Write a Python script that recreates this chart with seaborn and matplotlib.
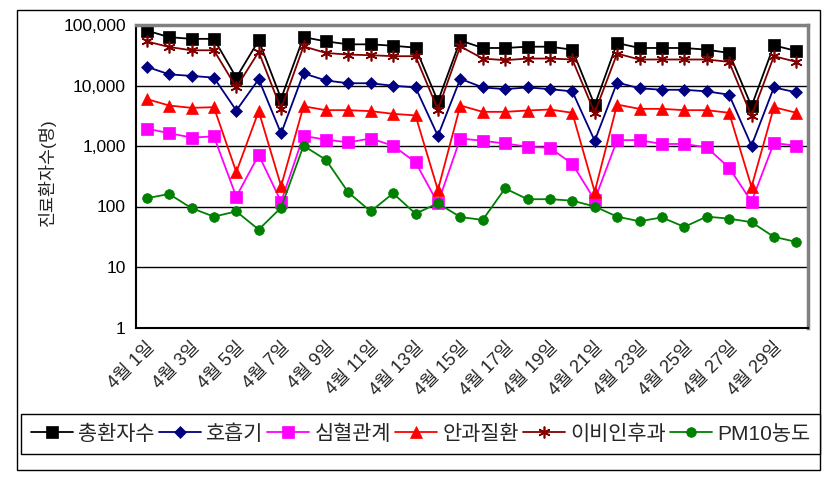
import matplotlib
matplotlib.use("Agg")
import matplotlib.pyplot as plt
from matplotlib.patches import Rectangle
from matplotlib.ticker import FixedLocator, NullFormatter, FuncFormatter
import seaborn as sns
import pandas as pd
import numpy as np

sns.set_style("white")
plt.rcParams['font.family'] = ['Liberation Sans', 'Noto Sans CJK KR', 'DejaVu Sans']

days = [f"4월 {d}일" for d in range(1, 31)]

total = [81000, 63000, 59000, 59000, 13500, 55600, 6070, 63000, 53600, 47900,
         47900, 45400, 42200, 5480, 55600, 41700, 41700, 43800, 43800, 39100,
         4720, 50300, 41700, 41700, 41700, 39100, 34500, 4540, 46100, 37200]
resp = [20400, 15300, 14400, 13500, 3860, 12700, 1610, 15900, 12100, 10900,
        10900, 9900, 9300, 1470, 12900, 9300, 8700, 9300, 8700, 8000,
        1220, 11200, 9000, 8500, 8500, 8000, 7050, 1010, 9300, 7700]
cardio = [1940, 1630, 1380, 1440, 145, 712, 120, 1470, 1270, 1150,
          1330, 1010, 540, 113, 1330, 1220, 1100, 975, 930, 508,
          128, 1250, 1250, 1080, 1080, 950, 438, 120, 1120, 1010]
eye = [5980, 4670, 4270, 4380, 371, 3770, 217, 4540, 3910, 3910,
       3770, 3400, 3200, 187, 4670, 3670, 3670, 3860, 4010, 3540,
       175, 4840, 4110, 4110, 3910, 3910, 3540, 211, 4380, 3540]
ent = [53600, 43300, 38200, 38200, 9300, 35900, 4110, 44400, 34500, 32400,
       31700, 30500, 30500, 4010, 44400, 27900, 26200, 27900, 27900, 26900,
       3540, 33700, 26900, 26900, 26900, 26900, 24600, 3120, 30500, 24600]
pm10 = [137, 161, 94, 68, 83, 41.5, 96, 1010, 592, 171,
        83, 165, 76, 113, 67, 60, 199, 132, 132, 125,
        100, 68, 57, 66, 46, 68, 63, 55, 31.5, 26]

series_names = ["총환자수", "호흡기", "심혈관계", "안과질환", "이비인후과", "PM10농도"]
series_values = [total, resp, cardio, eye, ent, pm10]
colors = ["#000000", "#000080", "#FF00FF", "#FF0000", "#800000", "#008000"]
markers = ["s", "D", "s", "^", (6, 2, 0), "o"]
msizes = [8, 6, 8, 8, 8.5, 7]

W, H = 839, 482
fig = plt.figure(figsize=(W / 100, H / 100), dpi=100)
L, R, T, B = 135.5, 807.5, 25, 327.5
ax = fig.add_axes([L / W, 1 - B / H, (R - L) / W, (B - T) / H])

x = np.arange(len(days))
handles = []
for name, vals, c, m, ms in zip(series_names, series_values, colors, markers, msizes):
    df = pd.DataFrame({"x": x, "y": vals})
    sns.lineplot(data=df, x="x", y="y", ax=ax, color=c, marker=m, markersize=ms,
                 markeredgecolor=c, markerfacecolor=c, markeredgewidth=1.2 if m == (6, 2, 0) else 0.5,
                 linewidth=1.3, label=name, legend=False)
    handles.append(ax.lines[-1])

ax.set_yscale("log")
ax.set_ylim(1, 100000)
ax.set_xlim(-0.5, len(days) - 0.5)
ax.set_yticks([1, 10, 100, 1000, 10000, 100000])
ax.yaxis.set_major_formatter(FuncFormatter(lambda v, p: f"{int(round(v)):,}"))
ax.yaxis.set_minor_locator(FixedLocator([]))
ax.tick_params(axis="y", which="major", length=0, pad=7, labelsize=12.5, colors="black")
for yv in [10, 100, 1000, 10000]:
    ax.axhline(yv, color="black", lw=1, zorder=0.5)

# category boundary ticks every 2 categories, labels at odd days
ax.xaxis.set_major_locator(FixedLocator(np.arange(1.5, 28, 2)))
ax.xaxis.set_major_formatter(NullFormatter())
ax.tick_params(axis="x", which="major", direction="in", length=5, width=1, color="black")
ax.xaxis.set_minor_locator(FixedLocator(np.arange(0, 30, 2)))
ax.set_xticklabels(days[::2], minor=True)
ax.tick_params(axis="x", which="minor", length=0, pad=8, labelsize=13)
for lab in ax.get_xticklabels(minor=True):
    lab.set_rotation(45)
    lab.set_ha("right")
    lab.set_va("top")
    lab.set_rotation_mode("anchor")

ax.set_xlabel("")
ax.set_ylabel("")
for side in ["left", "bottom"]:
    ax.spines[side].set_color("black")
    ax.spines[side].set_linewidth(1.5)
for side in ["top", "right"]:
    ax.spines[side].set_color("#808080")
    ax.spines[side].set_linewidth(2.5)

fig.text(46.7 / W, 1 - 172.5 / H, "진료환자수(명)", rotation=90, ha="center", va="center",
         fontsize=12.5, color="#222222")

lx0, lx1, ly0, ly1 = 20.7, 820.3, 411.7, 456
leg = fig.legend(handles=handles, labels=series_names, ncol=6, loc="center",
                 bbox_to_anchor=(lx0 / W, 1 - ly1 / H, (lx1 - lx0) / W, (ly1 - ly0) / H),
                 bbox_transform=fig.transFigure, mode="expand", borderaxespad=0,
                 frameon=True, fancybox=False, edgecolor="black", framealpha=1,
                 fontsize=15, handlelength=2.0, handletextpad=0.25, columnspacing=0.4,
                 borderpad=0.5)
leg.get_frame().set_linewidth(1)

fig.patches.append(Rectangle((17.3 / W, 1 - 470 / H), (820.3 - 17.3) / W, (470 - 10.3) / H,
                             transform=fig.transFigure, fill=False, ec="black", lw=1))

fig.savefig("out.png", dpi=100)
